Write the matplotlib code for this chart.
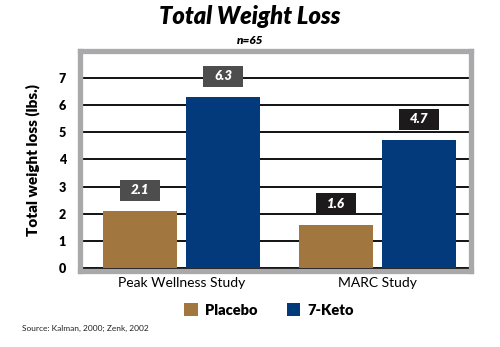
import numpy as np
import matplotlib
matplotlib.use("Agg")
import matplotlib.pyplot as plt
import matplotlib.patches as mpatches

plt.rcParams['font.family'] = ['Lato', 'DejaVu Sans']

# study results (lbs. lost)
studies = ['Peak Wellness Study', 'MARC Study']
placebo = [2.1, 1.6]
keto = [6.3, 4.7]
yticks = [0, 1, 2, 3, 4, 5, 6, 7]

c_placebo = '#a2773f'
c_keto = '#023a7c'
c_frame = '#a9a9ab'
box_colors = ['#4d4d4d', '#1c1a1a']

W, H = 500, 347
fig = plt.figure(figsize=(W / 100, H / 100), dpi=100)
# axes placed on the centreline of the grey frame
ax = fig.add_axes([80 / W, 1 - 270.5 / H, 390.5 / W, 220 / H])

px_y = 27.14   # pixels per lb
px_x = 196.0   # pixels per group
ax.set_ylim(-2.5 / px_y, -2.5 / px_y + 220 / px_y)
ax.set_xlim(-101.5 / px_x, -101.5 / px_x + 390.5 / px_x)

x = np.arange(len(studies))
off = 0.212
bw = 0.378
ax.bar(x - off, placebo, bw, color=c_placebo, zorder=2, label='Placebo')
ax.bar(x + off, keto, bw, color=c_keto, zorder=2, label='7-Keto')

# value boxes above each bar
bxw, bxh = 40 / px_x, 21 / px_y
for i in range(len(studies)):
    for xc, v in ((x[i] - off, placebo[i]), (x[i] + off, keto[i])):
        yc = v + 21 / px_y
        ax.add_patch(mpatches.Rectangle((xc - bxw / 2, yc - bxh / 2), bxw, bxh,
                                        facecolor=box_colors[i], edgecolor='none', zorder=3))
        ax.text(xc, yc, '%.1f' % v, color='white', fontsize=9.5, fontweight='heavy',
                style='italic', ha='center', va='center', zorder=4)

ax.yaxis.grid(True, color='#111111', linewidth=1.4)
ax.set_axisbelow(True)
ax.tick_params(axis='y', length=0, pad=10)
ax.tick_params(axis='x', length=0, pad=5)
ax.set_yticks(yticks)
ax.set_yticklabels([str(t) for t in yticks], fontsize=9, fontweight='heavy')
ax.set_xticks(x)
ax.set_xticklabels(studies, fontsize=10)
ax.set_ylabel('Total weight loss (lbs.)', fontsize=11, fontweight='heavy')
ax.yaxis.set_label_coords(-40 / 390.5, 0.5)

for s in ax.spines.values():
    s.set_color(c_frame)
    s.set_linewidth(3.8)
    s.set_zorder(5)

fig.text(250 / W, 1 - 17 / H, 'Total Weight Loss', fontsize=17, fontweight='heavy',
         style='italic', ha='center', va='center')
fig.text(250 / W, 1 - 40 / H, 'n=65', fontsize=8.5, fontweight='heavy',
         style='italic', ha='center', va='center')

fig.legend(loc='center', bbox_to_anchor=(269 / W, 1 - 310 / H), ncol=2, frameon=False,
           handlelength=0.95, handleheight=0.95, handletextpad=0.45, columnspacing=2.0,
           prop={'size': 10.5, 'weight': 'heavy'})

fig.text(22 / W, 1 - 328 / H, 'Source: Kalman, 2000; Zenk, 2002', fontsize=6,
         color='#222222', ha='left', va='center')

fig.savefig('out.png', dpi=100)
